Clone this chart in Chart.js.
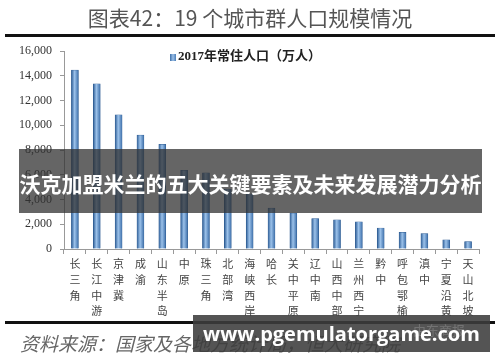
<!DOCTYPE html>
<html>
<head>
<meta charset="utf-8">
<script src="https://cdn.jsdelivr.net/npm/chart.js@4.4.0/dist/chart.umd.min.js"></script>
<style>
  html, body { margin: 0; padding: 0; background: #fff; }
  #wrap { position: relative; width: 500px; height: 362px; overflow: hidden; background: #fff; }
  #chart { position: absolute; left: 0; top: 0; }
  .abs { position: absolute; white-space: nowrap; }
  #title { left: 0; width: 500px; top: 2px; text-align: center; font: 21px "Noto Sans CJK SC", sans-serif; color: #555; }
  .rule { position: absolute; left: 5px; width: 490px; height: 3px; background: #111; }
  #legend { left: 170px; top: 45px; font: bold 13px "Liberation Serif", "Noto Sans CJK SC", serif; color: #222; }
  #legend i { display: inline-block; width: 6px; height: 7px; margin-right: 2px; background: linear-gradient(90deg, #3d6fa8, #9cc0e8, #4a7cb5); vertical-align: -1px; }
  #source { left: 20px; top: 329px; font: italic 19px "Noto Sans CJK SC", sans-serif; color: #666; }
  #band { left: 19px; top: 149px; width: 463px; height: 64px; background: rgba(50,50,50,0.75); }
  #bandText { left: 19px; top: 149px; width: 463px; height: 64px; text-align: center; font: bold 21px/68px "Noto Sans CJK SC", sans-serif; color: #fff; }
  #mark { left: 193px; top: 315px; width: 297px; height: 37px; background: rgba(60,60,60,0.88); }
  #markText { left: 193px; top: 315px; width: 297px; height: 37px; text-align: center; font: bold 20px/38px "Open Sans", "DejaVu Sans", sans-serif; color: #fff; }
  #paper { left: 413px; top: 320px; font: 13px "Noto Sans CJK SC", sans-serif; color: rgba(255,255,255,0.18); }
</style>
</head>
<body>
<div id="wrap">
  <canvas id="chart" width="500" height="362"></canvas>
  <div id="title" class="abs">图表42：19 个城市群人口规模情况</div>
  <div class="rule" style="top:34px"></div>
  <div id="legend" class="abs"><i></i>2017年常住人口（万人）</div>
  <div class="rule" style="top:321px"></div>
  <div id="source" class="abs">资料来源：国家及各地方统计局，恒大研究院</div>
  <div id="band" class="abs"></div>
  <div id="bandText" class="abs">沃克加盟米兰的五大关键要素及未来发展潜力分析</div>
  <div id="mark" class="abs"></div>
  <div id="paper" class="abs">由东商报</div>
  <div id="markText" class="abs">www.pgemulatorgame.com</div>
</div>
<script>
// data
const cities = ['长三角', '长江中游', '京津冀', '成渝', '山东半岛', '中原', '珠三角', '北部湾', '海峡西岸', '哈长',
    '关中平原', '辽中南', '山西中部', '兰州西宁', '黔中', '呼包鄂榆', '滇中', '宁夏沿黄', '天山北坡'];
const population2017 = [14450, 13350, 10850, 9200, 8450, 6350, 6150, 4850, 4450, 3300,
    2900, 2450, 2350, 2200, 1700, 1350, 1250, 750, 600];
const yTicks = [0, 2000, 4000, 6000, 8000, 10000, 12000, 14000, 16000];

// each city name is written top-to-bottom, one character per line
const labels = cities.map(c => c.split(''));

function barFill(ctx) {
    const chart = ctx.chart;
    const x = chart.scales && chart.scales.x;
    if (!x || !chart.chartArea || ctx.dataIndex === undefined) return '#5b8fc7';
    const cx = x.getPixelForValue(ctx.dataIndex);
    const g = chart.ctx.createLinearGradient(cx - 3.5, 0, cx + 3.5, 0);
    g.addColorStop(0, '#2f5f98');
    g.addColorStop(0.45, '#9cc2ea');
    g.addColorStop(1, '#3e70ab');
    return g;
}

new Chart(document.getElementById('chart'), {
    type: 'bar',
    data: {
        labels: labels,
        datasets: [{
            label: '2017年常住人口（万人）',
            data: population2017,
            backgroundColor: barFill,
            borderColor: '#2d5a8e',
            borderWidth: 0.5,
            barThickness: 7
        }]
    },
    options: {
        responsive: false,
        animation: false,
        layout: { padding: { top: 51, left: 0, right: 21, bottom: 42 } },
        plugins: { legend: { display: false }, tooltip: { enabled: false } },
        scales: {
            x: {
                grid: { offset: true, drawOnChartArea: false, tickLength: 5, color: '#999' },
                border: { color: '#999' },
                ticks: {
                    autoSkip: false, maxRotation: 0, minRotation: 0, padding: 2,
                    color: '#444',
                    font: { family: '"Noto Sans CJK SC", sans-serif', size: 11, lineHeight: 1.43 }
                },
                afterFit: s => { s.height = 71; }
            },
            y: {
                min: 0, max: 16000,
                afterBuildTicks: s => { s.ticks = yTicks.map(v => ({ value: v })); },
                grid: { drawOnChartArea: false, tickLength: 4, color: '#999' },
                border: { color: '#999' },
                ticks: {
                    padding: 8, color: '#333',
                    font: { family: '"Liberation Serif", serif', size: 12 },
                    callback: v => v.toLocaleString('en-US')
                },
                afterFit: s => { s.width = 64; }
            }
        }
    }
});
</script>
</body>
</html>
